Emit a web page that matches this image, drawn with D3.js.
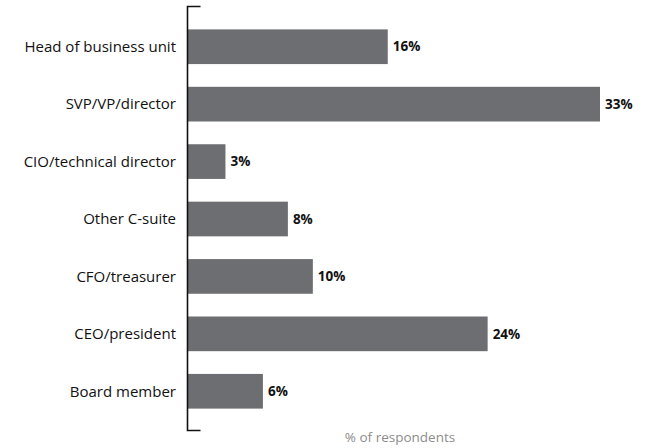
<!DOCTYPE html>
<html>
<head>
<meta charset="utf-8">
<script src="https://cdn.jsdelivr.net/npm/d3@7"></script>
<style>
  html, body { margin: 0; padding: 0; background: #fff; }
  svg { display: block; }
</style>
</head>
<body>
<div id="chart"></div>
<script>
const categories = ["Head of business unit", "SVP/VP/director", "CIO/technical director", "Other C-suite", "CFO/treasurer", "CEO/president", "Board member"];
const values = [16, 33, 3, 8, 10, 24, 6];
const valueLabels = ["16%", "33%", "3%", "8%", "10%", "24%", "6%"];
const axisTitle = "% of respondents";

const W = 649, H = 448;
const svg = d3.select("#chart").append("svg").attr("width", W).attr("height", H);

const x0 = 188;
const x = d3.scaleLinear().domain([0, 33]).range([x0, 600]);
const y = d3.scaleBand().domain(categories).range([7, 431]).paddingInner(0.396).paddingOuter(0.39);

const data = categories.map((c, i) => ({ c, v: values[i], l: valueLabels[i] }));

svg.append("g").selectAll("rect").data(data).join("rect")
  .attr("x", x(0))
  .attr("y", d => y(d.c))
  .attr("width", d => x(d.v) - x(0))
  .attr("height", y.bandwidth())
  .attr("fill", "#6d6e71");

svg.append("g").selectAll("text").data(data).join("text")
  .attr("x", d => x(d.v) + 5)
  .attr("y", d => y(d.c) + y.bandwidth() / 2)
  .attr("dy", "0.35em")
  .attr("font-family", "'Open Sans', sans-serif")
  .attr("font-size", 13.5)
  .attr("font-weight", 700)
  .attr("fill", "#111")
  .text(d => d.l);

svg.append("g").selectAll("text").data(data).join("text")
  .attr("x", 176)
  .attr("y", d => y(d.c) + y.bandwidth() / 2)
  .attr("dy", "0.35em")
  .attr("text-anchor", "end")
  .attr("font-family", "'Open Sans', sans-serif")
  .attr("font-size", 15)
  .attr("fill", "#111")
  .text(d => d.c);

// axis bracket
const ax = 187.5;
svg.append("path")
  .attr("d", `M${ax + 13},6.5H${ax}V430.5H${ax + 13}`)
  .attr("fill", "none")
  .attr("stroke", "#111")
  .attr("stroke-width", 1.6);

svg.append("text")
  .attr("x", 400)
  .attr("y", 442)
  .attr("text-anchor", "middle")
  .attr("font-family", "'Open Sans', sans-serif")
  .attr("font-size", 13.5)
  .attr("fill", "#8c8c8c")
  .text(axisTitle);
</script>
</body>
</html>
